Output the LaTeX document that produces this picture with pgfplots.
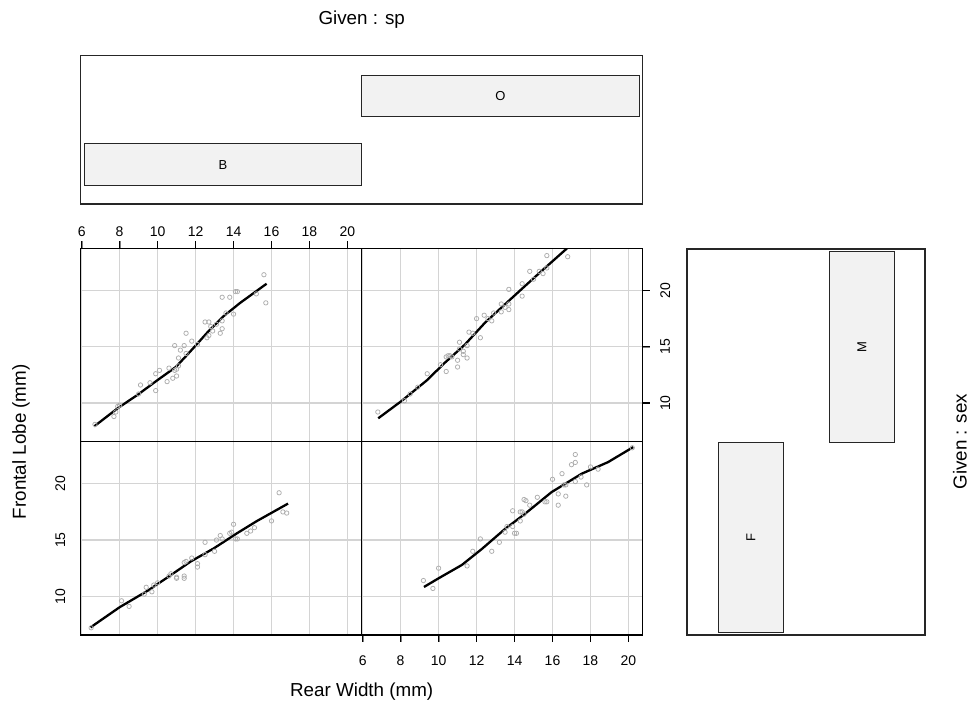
\documentclass[border=0pt]{standalone}
\usepackage{fontspec}
\setmainfont{Liberation Sans}
\usepackage{pgfplots}
\usepackage{pgfplotstable}
\pgfplotsset{compat=1.18}

\definecolor{gridgray}{gray}{0.83}
\definecolor{ptgray}{gray}{0.68}
\definecolor{barfill}{gray}{0.95}

% Rear width (RW) and frontal lobe (FL) of crabs, by species and sex
\pgfplotstableread{
RW FL
6.7 8.1
7.7 8.8
7.8 9.2
7.9 9.7
8.0 9.8
9.0 10.8
9.1 11.6
9.6 11.8
9.9 11.1
9.9 12.6
10.1 12.9
10.5 11.9
10.6 13.1
10.8 12.2
11.0 12.4
10.9 12.9
11.0 13.0
11.1 13.3
10.9 15.1
11.1 14.0
11.2 14.7
11.4 15.1
11.5 14.4
11.5 16.2
11.8 15.5
12.1 15.2
12.5 17.2
12.7 17.2
12.6 15.8
12.7 16.0
12.8 16.8
12.9 16.4
13.1 17.0
13.3 16.2
13.4 17.3
13.4 16.6
13.6 18.0
13.4 19.4
13.8 19.4
14.0 17.9
14.1 19.9
14.2 19.9
15.2 19.7
15.6 21.4
15.7 18.9
}\blueM

\pgfplotstableread{
RW FL
6.8 9.2
8.2 10.2
8.5 10.8
8.9 11.4
9.4 12.6
10.1 13.4
10.4 12.8
10.4 14.1
10.5 14.2
10.6 14.2
10.7 14.1
11.0 13.8
11.0 13.2
11.1 15.4
11.1 14.8
11.3 14.6
11.3 14.3
11.5 15.1
11.5 14.0
11.6 16.3
11.8 16.2
12.0 17.5
12.2 15.8
12.4 17.8
12.6 17.5
12.8 17.3
12.9 18.0
13.3 18.8
13.3 18.1
13.5 18.5
13.7 20.1
13.7 18.3
13.7 18.8
14.4 20.6
14.4 19.5
14.8 21.7
15.0 21.0
15.3 21.7
15.5 21.5
15.7 22.0
15.7 23.1
16.8 23.0
}\orangeM

\pgfplotstableread{
RW FL
6.5 7.2
8.1 9.6
8.5 9.1
9.3 10.2
9.4 10.8
9.7 10.4
9.8 11.0
10.0 11.2
10.6 11.8
10.7 12.0
11.0 11.6
11.0 11.7
11.4 13.0
11.5 13.1
11.4 11.8
11.4 11.6
11.8 13.4
12.1 12.9
12.1 12.6
12.5 14.8
12.5 13.7
13.0 14.0
13.1 15.0
13.3 15.4
13.4 15.1
13.8 15.6
13.9 15.7
14.0 16.4
14.1 15.1
14.2 15.1
14.7 15.6
14.9 15.8
15.1 16.1
16.0 16.7
16.4 19.2
16.6 17.5
16.8 17.4
}\blueF

\pgfplotstableread{
RW FL
9.2 11.4
9.7 10.7
10.0 12.5
11.5 12.7
11.8 14.0
12.2 15.1
12.8 14.0
13.2 14.8
13.5 15.7
13.6 16.2
13.9 17.6
14.0 15.6
14.1 15.6
13.9 16.2
14.3 17.5
14.4 17.5
14.5 17.3
14.3 16.7
14.5 18.6
14.6 18.5
14.8 18.1
15.2 18.8
15.6 18.4
15.7 18.4
16.0 20.4
16.3 19.1
16.3 18.1
16.5 20.9
16.6 19.9
16.7 18.9
16.7 19.9
17.0 21.7
17.2 22.6
17.2 21.9
17.2 20.2
17.5 20.6
17.8 19.9
18.0 21.5
18.4 21.3
20.2 23.2
}\orangeF

\tikzset{tickmark/.style={draw=black, line width=1.5pt}}

\pgfplotsset{
  panel/.style={
    scale only axis, width=281pt, height=193.3pt,
    xmin=5.95, xmax=20.75, ymin=6.56, ymax=23.74,
    xtick={6,8,...,20}, ytick={10,15,20},
    xmajorgrids, ymajorgrids,
    major grid style={draw=gridgray, line width=1.1pt},
    axis line style={line width=1.1pt, black},
    tick align=outside, major tick length=7pt,
    tick label style={font=\fontsize{14}{14}\selectfont},
  },
  pts/.style={only marks, mark=o, mark size=2.2pt, ptgray, mark options={line width=0.75pt}},
  smooth line/.style={black, line width=2.3pt, no marks},
  given/.style={
    scale only axis, xmin=0, xmax=1, ymin=0, ymax=1,
    xtick=\empty, ytick=\empty,
    axis line style={line width=1.1pt, black!85},
  },
  interval/.style={draw=black!85, fill=barfill, line width=1pt},
}

\begin{document}
\begin{tikzpicture}
\useasboundingbox (0pt,0pt) rectangle (971pt,-706pt);

% sp = B, sex = M
\begin{axis}[panel, at={(80.7pt,-441.7pt)}, anchor=south west,
  ymajorticks=false,
  xtick pos=right, xticklabel pos=right,
  xticklabels={6,8,10,12,14,16,18,20},
  xticklabel shift=1pt]
\addplot[pts] table[x=RW,y=FL] {\blueM};
\addplot[smooth line] coordinates {(6.66,7.92) (7.91,9.55) (8.96,10.74) (9.91,11.93) (10.96,13.2) (11.57,14.3) (12.0,15.1) (12.6,16.23) (13.48,17.72) (14.35,18.9) (15.74,20.6)};
\end{axis}

% sp = O, sex = M
\begin{axis}[panel, at={(361.7pt,-441.7pt)}, anchor=south west,
  xmajorticks=false,
  ytick pos=right, yticklabel pos=right,
  yticklabels={10,15,20},
  yticklabel style={rotate=90, anchor=north},
  yticklabel shift=7pt]
\addplot[pts] table[x=RW,y=FL] {\orangeM};
\addplot[smooth line] coordinates {(6.82,8.64) (8.05,10.18) (9.37,12.0) (10.33,13.58) (11.39,15.2) (12.44,17.13) (13.49,18.76) (14.54,20.38) (15.6,22.0) (16.8,23.8)};
\end{axis}

% sp = B, sex = F
\begin{axis}[panel, at={(80.7pt,-635pt)}, anchor=south west,
  xmajorticks=false,
  ytick pos=left, yticklabel pos=left,
  yticklabels={10,15,20},
  major tick length=0pt,
  yticklabel style={rotate=90, anchor=south},
  yticklabel shift=12pt]
\addplot[pts] table[x=RW,y=FL] {\blueF};
\addplot[smooth line] coordinates {(6.47,7.24) (8.0,9.03) (9.48,10.5) (10.52,11.68) (11.74,13.09) (12.96,14.26) (14.17,15.59) (15.22,16.68) (16.87,18.24)};
\end{axis}

% sp = O, sex = F
\begin{axis}[panel, at={(361.7pt,-635pt)}, anchor=south west,
  ymajorticks=false,
  xtick pos=left, xticklabel pos=left,
  xticklabels={6,8,10,12,14,16,18,20},
  xticklabel shift=10pt]
\addplot[pts] table[x=RW,y=FL] {\orangeF};
\addplot[smooth line] coordinates {(9.23,10.83) (10.0,11.6) (11.23,12.79) (12.28,14.21) (13.5,15.99) (14.55,17.33) (15.95,19.26) (17.53,20.89) (18.93,21.93) (20.25,23.26)};
\end{axis}

% outward tick marks on the labelled sides (18.986pt per unit across, 11.2515pt per unit up)
\foreach \t in {6,8,10,12,14,16,18,20} {
  \pgfmathsetmacro{\xa}{80.7+(\t-5.95)*18.986}
  \pgfmathsetmacro{\xb}{361.7+(\t-5.95)*18.986}
  \draw[tickmark] (\xa pt,-248.4pt) -- (\xa pt,-241.4pt);
  \draw[tickmark] (\xb pt,-635pt) -- (\xb pt,-642pt);
}
\foreach \v in {10,15,20} {
  \pgfmathsetmacro{\ya}{-441.7+(\v-6.56)*11.2515}
  \draw[tickmark] (642.7pt,\ya pt) -- (649.7pt,\ya pt);
}

% conditioning panel for species
\begin{axis}[given, at={(80.7pt,-204pt)}, anchor=south west,
  width=562pt, height=148.3pt]
\addplot[interval] coordinates {(0.006,0.123) (0.5,0.123) (0.5,0.407) (0.006,0.407)} --cycle;
\addplot[interval] coordinates {(0.5,0.589) (0.994,0.589) (0.994,0.865) (0.5,0.865)} --cycle;
\node[font=\fontsize{13}{13}\selectfont] at (axis cs:0.253,0.265) {B};
\node[font=\fontsize{13}{13}\selectfont] at (axis cs:0.747,0.727) {O};
\end{axis}

% conditioning panel for sex
\begin{axis}[given, at={(687pt,-635pt)}, anchor=south west,
  width=238pt, height=386pt]
\addplot[interval] coordinates {(0.131,0.007) (0.406,0.007) (0.406,0.5) (0.131,0.5)} --cycle;
\addplot[interval] coordinates {(0.597,0.5) (0.873,0.5) (0.873,0.993) (0.597,0.993)} --cycle;
\node[font=\fontsize{13}{13}\selectfont, rotate=90] at (axis cs:0.2685,0.2535) {F};
\node[font=\fontsize{13}{13}\selectfont, rotate=90] at (axis cs:0.735,0.7465) {M};
\end{axis}

\node[font=\fontsize{18.8}{20}\selectfont] at (361.7pt,-20pt) {Given : sp};
\node[font=\fontsize{18.8}{20}\selectfont] at (361.7pt,-692pt) {Rear Width (mm)};
\node[font=\fontsize{18.8}{20}\selectfont, rotate=90] at (21pt,-441.7pt) {Frontal Lobe (mm)};
\node[font=\fontsize{18.8}{20}\selectfont, rotate=90] at (960pt,-441.7pt) {Given : sex};
\end{tikzpicture}
\end{document}
